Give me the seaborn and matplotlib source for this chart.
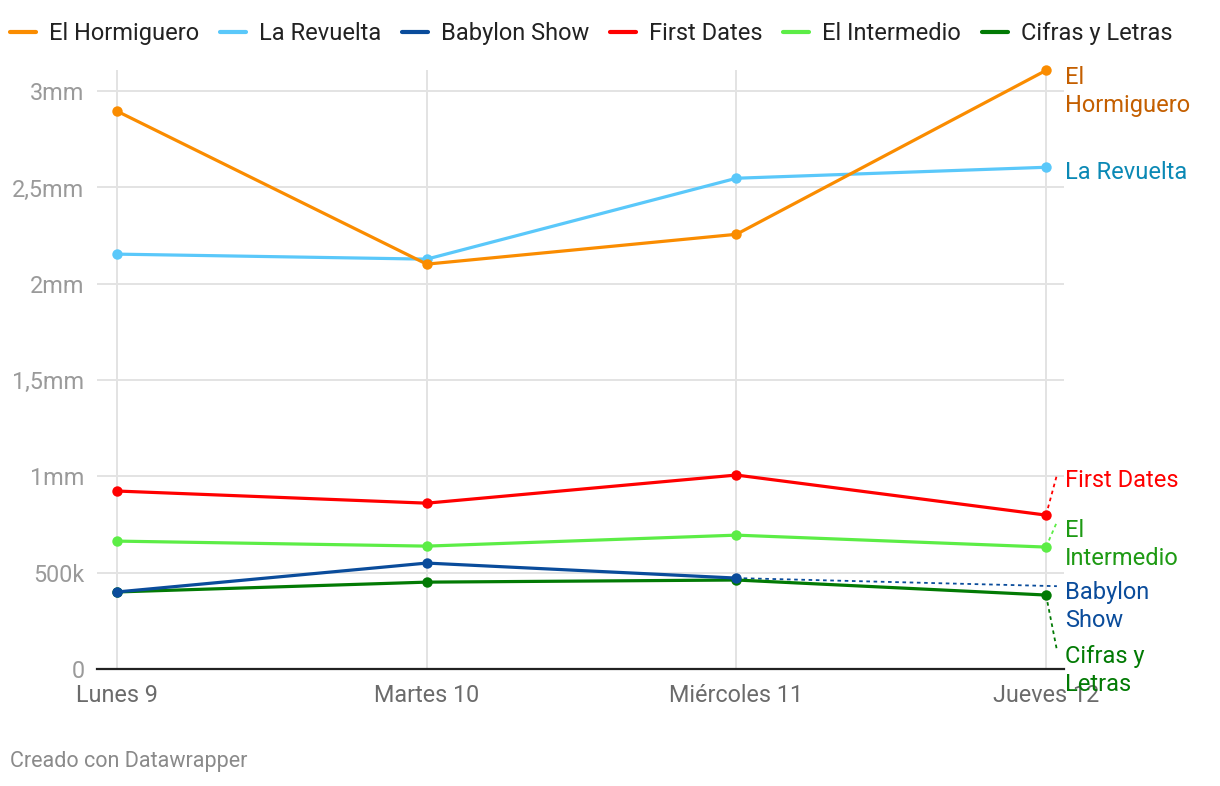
import pandas as pd
import seaborn as sns
import matplotlib.pyplot as plt
from matplotlib.lines import Line2D

dias = ['Lunes 9', 'Martes 10', 'Miércoles 11', 'Jueves 12']
programas = ['El Hormiguero', 'La Revuelta', 'Babylon Show', 'First Dates', 'El Intermedio', 'Cifras y Letras']
hormiguero = [2896000, 2102000, 2257000, 3108000]
revuelta = [2154000, 2128000, 2548000, 2605000]
babylon = [400000, 550000, 472000, None]
first_dates = [924000, 861000, 1007000, 799000]
intermedio = [664000, 638000, 695000, 633000]
cifras = [400000, 451000, 462000, 384000]

yticks = [0, 500000, 1000000, 1500000, 2000000, 2500000, 3000000]
yticklabels = ['0', '500k', '1mm', '1,5mm', '2mm', '2,5mm', '3mm']

colores = {'El Hormiguero': '#fa8c00', 'La Revuelta': '#5ac8fa', 'Babylon Show': '#0a4c9b',
           'First Dates': '#ff0000', 'El Intermedio': '#5ced46', 'Cifras y Letras': '#027a04'}
colores_etiqueta = {'El Hormiguero': '#c45f00', 'La Revuelta': '#0b89b5', 'Babylon Show': '#0a4c9b',
                    'First Dates': '#ff0000', 'El Intermedio': '#1e9a14', 'Cifras y Letras': '#027a04'}
etiquetas = {'El Hormiguero': 'El\nHormiguero', 'La Revuelta': 'La Revuelta', 'Babylon Show': 'Babylon\nShow',
             'First Dates': 'First Dates', 'El Intermedio': 'El\nIntermedio', 'Cifras y Letras': 'Cifras y\nLetras'}

series = [hormiguero, revuelta, babylon, first_dates, intermedio, cifras]
df = pd.DataFrame({'dia': dias * 6,
                   'programa': [p for p in programas for _ in dias],
                   'valor': [v for s in series for v in s]})

sns.set_theme(style='white')
plt.rcParams['font.family'] = ['Roboto', 'DejaVu Sans']

fig = plt.figure(figsize=(12.2, 7.86), dpi=100)
ax = fig.add_axes([97 / 1220, 117 / 786, 967 / 1220, 599 / 786])

for p in programas[::-1]:
    sub = df[(df.programa == p) & df.valor.notna()]
    sns.lineplot(data=sub, x='dia', y='valor', color=colores[p], linewidth=2.3,
                 marker='o', markersize=7.5, markeredgewidth=0, sort=False, ax=ax)
for ln in ax.lines:
    ln.set_clip_on(False)

ax.set_xlim(-0.065, 3.058)
ax.set_ylim(0, 3110000)
ax.set_yticks(yticks)
ax.set_yticklabels(yticklabels)
ax.set_xlabel('')
ax.set_ylabel('')
ax.grid(True, color='#e3e3e3', linewidth=1.4)
ax.set_axisbelow(True)
for s in ['top', 'right', 'left']:
    ax.spines[s].set_visible(False)
ax.spines['bottom'].set_color('#222222')
ax.spines['bottom'].set_linewidth(1.6)
ax.tick_params(axis='y', length=0, pad=9, labelsize=16.8, labelcolor='#9a9a9a')
ax.tick_params(axis='x', length=0, pad=11, labelsize=16.8, labelcolor='#6b6b6b')

# etiquetas a la derecha
pos_etiqueta = {'El Hormiguero': 3000000, 'La Revuelta': 2580000, 'First Dates': 981000,
                'El Intermedio': 645000, 'Babylon Show': 323000, 'Cifras y Letras': -8000}
for p in programas:
    ax.text(3.061, pos_etiqueta[p], etiquetas[p], color=colores_etiqueta[p], fontsize=17,
            va='center', ha='left', linespacing=1.27, clip_on=False)

# lineas guia punteadas
guias = {'First Dates': (3, first_dates[3], 1007000), 'El Intermedio': (3, intermedio[3], 763000),
         'Babylon Show': (2, babylon[2], 430000), 'Cifras y Letras': (3, cifras[3], 99000)}
for p, (x0, y0, y1) in guias.items():
    ax.plot([x0, 3.035], [y0, y1], color=colores[p], linestyle=(0, (2, 2)), linewidth=1.3,
            clip_on=False, zorder=1)

handles = [Line2D([0], [0], color=colores[p], linewidth=3) for p in programas]
fig.legend(handles, programas, loc='upper left', bbox_to_anchor=(-0.009, 0.999), ncol=6, frameon=False,
           fontsize=17, handlelength=1.1, handletextpad=0.55, columnspacing=0.88, labelcolor='#222222')

fig.text(10 / 1220, 1 - 762 / 786, 'Creado con Datawrapper', fontsize=15.5, color='#8a8a8a', va='center')

fig.savefig('out.png', dpi=100)
